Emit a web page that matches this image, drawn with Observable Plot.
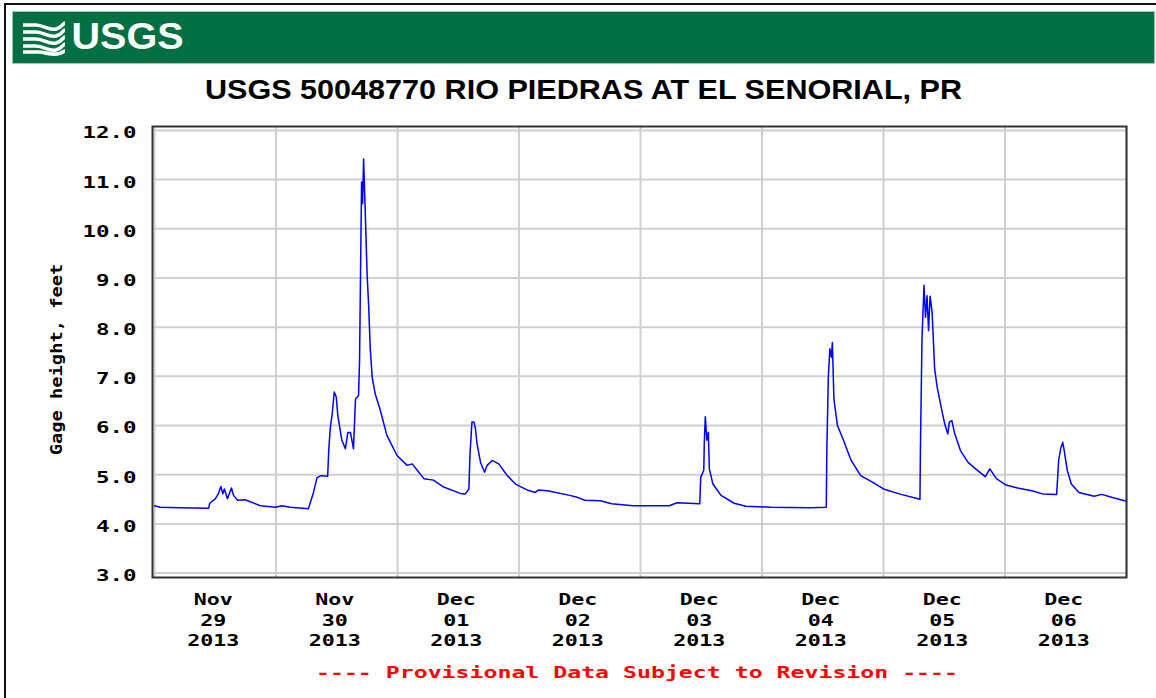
<!DOCTYPE html>
<html>
<head>
<meta charset="utf-8">
<script src="https://cdn.jsdelivr.net/npm/d3@7"></script>
<script src="https://cdn.jsdelivr.net/npm/@observablehq/plot@0.6"></script>
<style>
  html, body { margin: 0; padding: 0; background: #fff; }
  #page { position: relative; width: 1156px; height: 698px; overflow: hidden; background: #fff; }
  #banner { position: absolute; left: 13px; top: 12px; width: 1141px; height: 51px; background: #006f41; box-shadow: 0 0 0 1px #9cc9b0; }
  #deco { position: absolute; left: 0; top: 0; }
  #chart { position: absolute; left: 0; top: 110px; }
  #border { position: absolute; left: 4px; top: 3px; width: 1200px; height: 800px; border-top: 2px solid #111; border-left: 2px solid #111; pointer-events: none; z-index: 5; }
</style>
</head>
<body>
<div id="page">
  <div id="banner"></div>
  <svg id="deco" width="1156" height="698">
    <g fill="none" stroke="#fff" stroke-width="3.6" stroke-linecap="butt">
      <path d="M23,25 L36,25 C44,25 49,31 56,29 S63,23 65,23"/>
      <path d="M23,32 L36,32 C44,32 49,38 56,36 S63,30 65,30"/>
      <path d="M23,39 L36,39 C44,39 49,45 56,43 S63,37 65,37"/>
      <path d="M23,46 L36,46 C44,46 49,52 56,50 S63,44 65,44"/>
      <path d="M23,52 L38,52 C45,52 50,55 57,54 S63,51 65,51"/>
    </g>
    <text x="71.5" y="48.5" fill="#fff" font-family="'Liberation Sans Narrow','Liberation Sans',Arial,sans-serif" font-weight="bold" font-size="37" textLength="112" lengthAdjust="spacingAndGlyphs">USGS</text>
    <text id="title" x="583.5" y="99.3" text-anchor="middle" fill="#000" font-family="'Liberation Sans',Arial,sans-serif" font-weight="bold" font-size="28" textLength="757" lengthAdjust="spacingAndGlyphs">USGS 50048770 RIO PIEDRAS AT EL SENORIAL, PR</text>
    <text id="footer" x="637" y="678" text-anchor="middle" fill="#ff0000" font-family="'DejaVu Sans Mono',monospace" font-weight="bold" font-size="16.5" textLength="642" lengthAdjust="spacingAndGlyphs">---- Provisional Data Subject to Revision ----</text>
  </svg>
  <div id="chart"></div>
  <div id="border"></div>
</div>
<script>
// ---- data (hours after 2013-11-29 00:00, gage height in feet) ----
const hours = [0, 1.1, 5, 10.7, 10.9, 12.0, 12.65, 13.1, 13.5, 13.8, 14.4, 15.2, 15.6, 16.4, 17.9, 20.9, 23.9, 25.2, 26.8, 30.4,
  30.8, 31.4, 32.1, 32.9, 34.2, 34.4, 34.7, 35.1, 35.5, 35.9, 36.2, 37.0, 37.7, 38.2, 38.7, 39.3, 39.7, 40.3, 40.5, 40.9,
  41.1, 41.3, 41.6, 42.0, 42.3, 42.6, 43.0, 43.6, 44.6, 45.9, 47.9, 49.9, 50.9, 51.9, 53.2, 55.1, 57.1, 60.4, 61.4, 62.1,
  62.3, 62.7, 63.1, 63.4, 63.7, 64.4, 65.2, 65.7, 66.7, 68.0, 69.7, 71.3, 73.6, 75.2, 75.9, 77.9, 82.0, 83.5, 85.0, 88.1,
  90.3, 94.5, 101.7, 103.2, 107.7, 107.9, 108.5, 108.6, 108.8, 109.1, 109.4, 109.6, 110.3, 111.9, 114.5, 116.8, 121.7, 129.6, 132.7, 132.8,
  133.1, 133.4, 133.7, 133.9, 134.2, 134.9, 136.1, 137.6, 139.5, 141.8, 144.0, 147.1, 151.2, 151.3, 151.6, 152.0, 152.3, 152.6, 152.9, 153.2,
  153.6, 154.1, 154.6, 155.4, 156.1, 156.7, 157.0, 157.5, 158.0, 159.2, 160.7, 162.2, 164.1, 165.0, 166.3, 168.2, 170.5, 173.5, 175.4, 178.2,
  178.6, 179.0, 179.4, 179.7, 180.3, 181.1, 182.6, 185.6, 187.1, 189.4, 192];
const gageHeight = [4.37, 4.34, 4.33, 4.32, 4.42, 4.51, 4.62, 4.76, 4.61, 4.71, 4.51, 4.73, 4.58, 4.48, 4.49, 4.37, 4.34, 4.37, 4.34, 4.31,
  4.44, 4.64, 4.94, 4.98, 4.97, 5.46, 5.93, 6.24, 6.68, 6.58, 6.21, 5.70, 5.53, 5.86, 5.86, 5.53, 6.54, 6.61, 7.32, 10.95,
  10.51, 11.42, 10.44, 9.05, 8.44, 7.59, 6.98, 6.64, 6.31, 5.80, 5.39, 5.19, 5.22, 5.09, 4.92, 4.89, 4.75, 4.62, 4.61, 4.71,
  5.39, 6.07, 6.07, 5.93, 5.63, 5.25, 5.05, 5.19, 5.29, 5.22, 4.98, 4.81, 4.69, 4.64, 4.69, 4.67, 4.58, 4.54, 4.48, 4.47,
  4.41, 4.37, 4.37, 4.43, 4.41, 4.95, 5.09, 5.66, 6.18, 5.70, 5.86, 5.12, 4.81, 4.58, 4.42, 4.36, 4.34, 4.33, 4.34, 5.46,
  6.98, 7.56, 7.39, 7.69, 6.54, 6.00, 5.70, 5.29, 4.98, 4.85, 4.71, 4.61, 4.50, 5.59, 7.76, 8.85, 8.20, 8.64, 7.93, 8.63,
  8.31, 7.15, 6.78, 6.37, 6.03, 5.83, 6.07, 6.10, 5.86, 5.49, 5.25, 5.12, 4.96, 5.12, 4.92, 4.79, 4.73, 4.67, 4.61, 4.60,
  5.29, 5.53, 5.66, 5.49, 5.09, 4.81, 4.64, 4.56, 4.60, 4.53, 4.46];
const dayLabels = ["Nov\n29\n2013", "Nov\n30\n2013", "Dec\n01\n2013", "Dec\n02\n2013",
                   "Dec\n03\n2013", "Dec\n04\n2013", "Dec\n05\n2013", "Dec\n06\n2013"];
const yTicks = [3, 4, 5, 6, 7, 8, 9, 10, 11, 12];
const yLabel = "Gage height, feet";

const start = Date.UTC(2013, 10, 29);
const HOUR = 3600e3, DAY = 24 * HOUR;
const data = hours.map((h, i) => ({date: new Date(start + h * HOUR), value: gageHeight[i]}));
const midnights = d3.range(dayLabels.length + 1).map(d => new Date(start + d * DAY));
const noons = dayLabels.map((_, d) => new Date(start + d * DAY + 12 * HOUR));

const chart = Plot.plot({
  width: 1156,
  height: 550,
  marginTop: 16,
  marginBottom: 83,
  marginLeft: 152,
  marginRight: 30,
  style: {fontFamily: "'DejaVu Sans Mono', monospace", fontWeight: "bold", color: "#000", background: "transparent", overflow: "visible"},
  x: {type: "utc", domain: [new Date(start - 0.4 * HOUR), new Date(start + 8 * DAY)]},
  y: {domain: [2.91, 12.08]},
  marks: [
    Plot.gridY(yTicks, {stroke: "#d0d0d0", strokeOpacity: 1, strokeWidth: 2}),
    Plot.gridX(midnights, {stroke: "#d0d0d0", strokeOpacity: 1, strokeWidth: 2}),
    Plot.line(data, {x: "date", y: "value", stroke: "#0000ff", strokeWidth: 1.5}),
    Plot.frame({stroke: "#333", strokeWidth: 2}),
    Plot.axisY(yTicks, {tickSize: 0, tickPadding: 16, dy: 3, fontSize: 15.5, tickFormat: d3.format(".1f"), label: null}),
    Plot.axisX(noons, {tickSize: 0, tickPadding: 13, dx: -2, fontSize: 15.5, lineHeight: 1.33, label: null,
      tickFormat: d => dayLabels[Math.floor((d - start) / DAY)]}),
    Plot.text([yLabel], {frameAnchor: "left", textAnchor: "middle", lineAnchor: "middle", dx: -96, dy: 7.5, rotate: -90, fontSize: 16, fontWeight: "bold", fill: "#000"})
  ]
});

function stretch(t, sx) {
  const tr = t.getAttribute("transform");
  if (tr) t.setAttribute("transform", tr + ` scale(${sx},1)`);
  else {
    const x = +t.getAttribute("x") || 0;
    t.setAttribute("transform", `translate(${x},0) scale(${sx},1) translate(${-x},0)`);
  }
}
chart.querySelectorAll('g[aria-label="y-axis tick label"] text').forEach(t => stretch(t, 1.45));
chart.querySelectorAll('g[aria-label="x-axis tick label"] text').forEach(t => stretch(t, 1.4));
chart.querySelectorAll('g[aria-label="text"] text').forEach(t => stretch(t, 1.17));

document.getElementById("chart").appendChild(chart);
</script>
</body>
</html>
